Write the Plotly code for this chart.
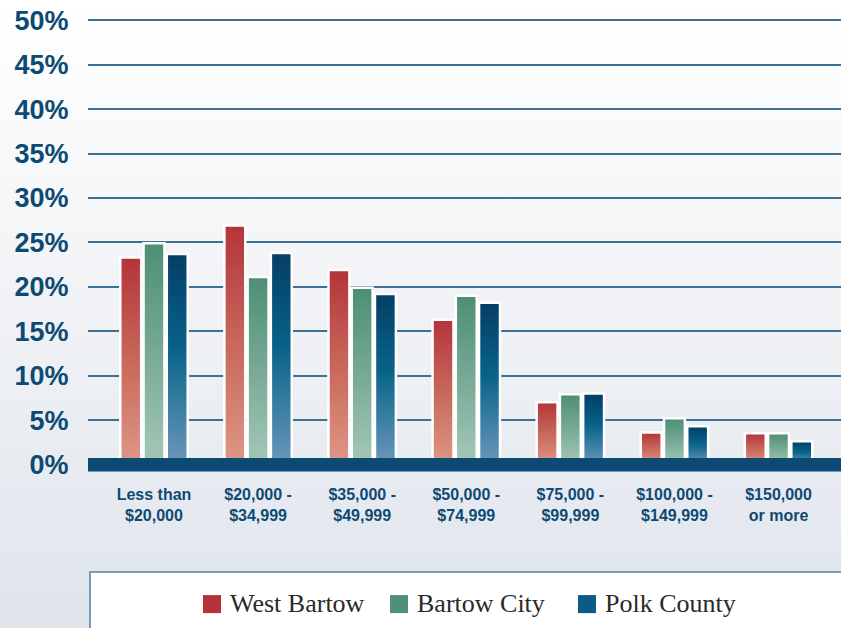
import base64
import plotly.graph_objects as go

# ── data ─────────────────────────────────────────────────────
CATEGORIES = ["Less than<br>$20,000", "$20,000 -<br>$34,999", "$35,000 -<br>$49,999",
              "$50,000 -<br>$74,999", "$75,000 -<br>$99,999", "$100,000 -<br>$149,999",
              "$150,000<br>or more"]
WEST_BARTOW = [23.3, 26.9, 21.9, 16.3, 7.0, 3.6, 3.5]
BARTOW_CITY = [24.9, 21.1, 19.9, 19.0, 7.9, 5.2, 3.5]
POLK_COUNTY = [23.7, 23.8, 19.2, 18.2, 8.0, 4.3, 2.6]
Y_TICKS = [0, 5, 10, 15, 20, 25, 30, 35, 40, 45, 50]

NAVY = "#0d4a73"
GRID = "#3f6f93"

# gradient stops (0 = top of bar, 1 = bottom)
SERIES = [
    ("West Bartow", WEST_BARTOW, "#b5323a", [(0, (180, 52, 58)), (0.5, (200, 104, 92)), (1, (222, 152, 134))]),
    ("Bartow City", BARTOW_CITY, "#4f9077", [(0, (77, 142, 116)), (0.5, (120, 170, 150)), (1, (165, 200, 185))]),
    ("Polk County", POLK_COUNTY, "#0a5b85", [(0, (5, 62, 102)), (0.45, (8, 99, 137)), (1, (108, 152, 188))]),
]
N_STEPS = 40


def grad(stops, t):
    for (t0, c0), (t1, c1) in zip(stops[:-1], stops[1:]):
        if t <= t1:
            f = (t - t0) / (t1 - t0)
            return "rgb(%d,%d,%d)" % tuple(round(a + (b - a) * f) for a, b in zip(c0, c1))
    return "rgb(%d,%d,%d)" % stops[-1][1]


xs = list(range(len(CATEGORIES)))
fig = go.Figure()

# ── bars with vertical gradient (overlapping, shrinking copies) ──
for name, vals, legend_clr, stops in SERIES:
    for k in range(N_STEPS):
        frac = 1 - k / N_STEPS
        fig.add_trace(go.Bar(
            x=xs, y=[v * frac for v in vals], offsetgroup=name,
            marker=dict(color=grad(stops, (k + 0.5) / N_STEPS), line=dict(width=0)),
            showlegend=False, hoverinfo="skip",
        ))
    # white outline on top
    fig.add_trace(go.Bar(
        x=xs, y=vals, offsetgroup=name, name=name,
        marker=dict(color="rgba(0,0,0,0)", line=dict(color="white", width=2.5)),
        showlegend=False,
    ))

# ── geometry (pixels) ────────────────────────────────────────
L, R, T, B = 88, 0, 16.3, 156
W, H = 841, 628
pw, ph = W - L - R, H - T - B


def px_x(p):
    return (p - L) / pw


def px_y(p):
    return (H - B - p) / ph


# ── background gradient ──────────────────────────────────────
svg = ("<svg xmlns='http://www.w3.org/2000/svg' width='100' height='100' preserveAspectRatio='none'>"
       "<defs><linearGradient id='g' x1='0' y1='0' x2='0' y2='1'>"
       "<stop offset='0' stop-color='#ffffff'/><stop offset='0.5' stop-color='#f0f2f5'/>"
       "<stop offset='0.91' stop-color='#e2e7ee'/><stop offset='1' stop-color='#dfe4eb'/>"
       "</linearGradient></defs><rect width='100' height='100' fill='url(#g)'/></svg>")
src = "data:image/svg+xml;base64," + base64.b64encode(svg.encode()).decode()

fig.add_layout_image(dict(
    source=src, xref="paper", yref="paper",
    x=px_x(0), y=px_y(0), sizex=W / pw, sizey=H / ph,
    sizing="stretch", xanchor="left", yanchor="top", layer="below",
))

# baseline band
fig.add_shape(type="rect", xref="paper", yref="y", x0=0, x1=1, y0=-0.8, y1=0.72,
              fillcolor=NAVY, line=dict(width=0), layer="above")
# legend box
fig.add_shape(type="rect", xref="paper", yref="paper",
              x0=px_x(90), x1=px_x(850), y0=px_y(640), y1=px_y(572),
              fillcolor="white", line=dict(color="#557d9d", width=1.5), layer="below")

# legend entries
for (name, _, clr, _), sq_x in zip(SERIES, [203, 390, 578]):
    fig.add_shape(type="rect", xref="paper", yref="paper",
                  x0=px_x(sq_x), x1=px_x(sq_x + 18), y0=px_y(613), y1=px_y(595),
                  fillcolor=clr, line=dict(width=0))
    fig.add_annotation(text=name, xref="paper", yref="paper",
                       x=px_x(sq_x + 25), y=px_y(603), xanchor="left", yanchor="middle",
                       showarrow=False,
                       font=dict(family="Liberation Serif, Times New Roman, serif", size=26, color="#2a2a2a"))

fig.update_layout(
    width=W, height=H,
    margin=dict(l=L, r=R, t=T, b=B),
    paper_bgcolor="white",
    plot_bgcolor="rgba(0,0,0,0)",
    barmode="group",
    bargap=0.33,
    bargroupgap=0.1,
    showlegend=False,
)
fig.update_xaxes(
    range=[-0.634, 6.6], tickvals=xs, ticktext=CATEGORIES,
    showgrid=False, zeroline=False, showline=False,
    ticks="outside", ticklen=8, tickcolor="rgba(0,0,0,0)",
    tickfont=dict(family="Liberation Sans, Arial, sans-serif", size=16, color=NAVY, weight="bold"),
)
fig.update_yaxes(
    range=[-0.85, 50.5], tickvals=Y_TICKS, ticktext=[f"{v}%" for v in Y_TICKS],
    showgrid=True, gridcolor=GRID, gridwidth=1.5,
    zeroline=False, showline=False,
    ticks="outside", ticklen=13, tickcolor="rgba(0,0,0,0)",
    tickfont=dict(family="Liberation Sans, Arial, sans-serif", size=27, color=NAVY, weight="bold"),
)

fig.write_html("out.html", config={"displayModeBar": False},
               post_script="document.body.style.margin='0';")
